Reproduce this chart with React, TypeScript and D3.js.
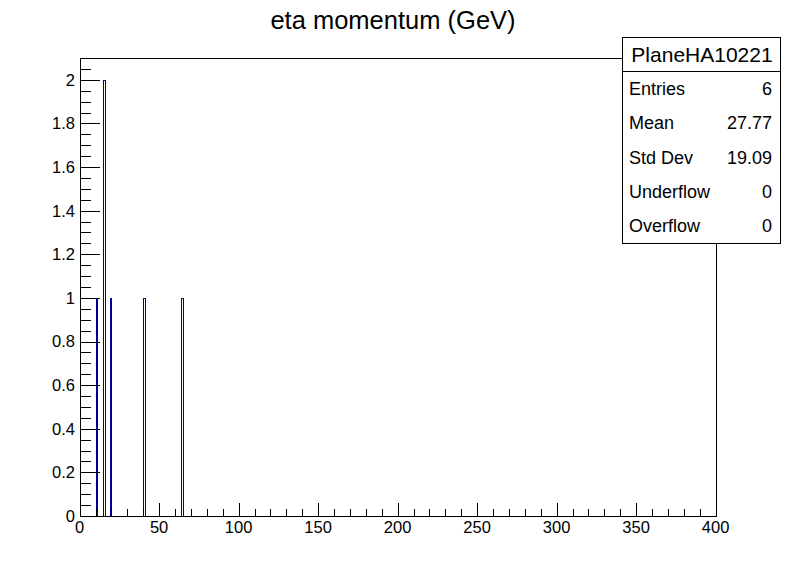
import React, { useEffect, useRef } from 'react';
import * as d3 from 'd3';

// histogram contents (bins of width 1 GeV, only the non-empty ones)
const binLow = [10, 15, 19, 40, 64];
const binCount = [1, 2, 1, 1, 1];
const binWidth = 1;

const xTicks = [0, 50, 100, 150, 200, 250, 300, 350, 400];
const yTicks = [0, 0.2, 0.4, 0.6, 0.8, 1, 1.2, 1.4, 1.6, 1.8, 2];

const statsTitle = 'PlaneHA10221';
const statsNames = ['Entries', 'Mean', 'Std Dev', 'Underflow', 'Overflow'];
const statsValues = ['6', '27.77', '19.09', '0', '0'];

const App = () => {
  const svgRef = useRef<SVGSVGElement>(null);

  useEffect(() => {
    const svg = d3.select(svgRef.current);
    svg.selectAll('*').remove();

    const W = 796;
    const H = 572;
    const frame = { left: 80, right: 716, top: 58, bottom: 516 };
    const font = "'Liberation Sans', Arial, Helvetica, sans-serif";

    svg.append('rect').attr('width', W).attr('height', H).attr('fill', 'white');

    const x = d3.scaleLinear().domain([0, 400]).range([79.6, 715.6]);
    const y = d3.scaleLinear().domain([0, 2.1]).range([frame.bottom, frame.top]);
    const px = (v: number) => Math.round(x(v)) + 0.5;
    const py = (v: number) => Math.round(y(v)) + 0.5;

    // histogram outline
    const g = svg.append('g').attr('shape-rendering', 'crispEdges');
    binLow.forEach((lo, i) => {
      const p = d3.path();
      p.moveTo(px(lo), py(0));
      p.lineTo(px(lo), py(binCount[i]));
      p.lineTo(px(lo + binWidth), py(binCount[i]));
      p.lineTo(px(lo + binWidth), py(0));
      g.append('path')
        .attr('d', p.toString())
        .attr('fill', 'none')
        .attr('stroke', '#000099')
        .attr('stroke-width', 1);
    });

    const axes = svg.append('g').attr('shape-rendering', 'crispEdges');

    // frame
    axes.append('rect')
      .attr('x', frame.left + 0.5)
      .attr('y', frame.top + 0.5)
      .attr('width', frame.right - frame.left)
      .attr('height', frame.bottom - frame.top)
      .attr('fill', 'none')
      .attr('stroke', 'black');

    // x axis ticks
    const xMinor = d3.range(0, 401, 10);
    axes.append('g').selectAll('line')
      .data(xMinor)
      .enter().append('line')
      .attr('x1', d => px(d))
      .attr('x2', d => px(d))
      .attr('y1', frame.bottom + 0.5)
      .attr('y2', d => frame.bottom + 0.5 - (d % 50 === 0 ? 14 : 8))
      .attr('stroke', 'black');

    svg.append('g').selectAll('text')
      .data(xTicks)
      .enter().append('text')
      .attr('x', d => x(d))
      .attr('y', 533)
      .attr('text-anchor', 'middle')
      .style('font-family', font)
      .style('font-size', '16.5px')
      .text(d => String(d));

    // y axis ticks
    const yMinor = d3.range(0, 42).map(i => i * 0.05);
    axes.append('g').selectAll('line')
      .data(yMinor)
      .enter().append('line')
      .attr('x1', frame.left + 0.5)
      .attr('x2', (d, i) => frame.left + 0.5 + (i % 4 === 0 ? 19 : 10))
      .attr('y1', d => py(d))
      .attr('y2', d => py(d))
      .attr('stroke', 'black');

    svg.append('g').selectAll('text')
      .data(yTicks)
      .enter().append('text')
      .attr('x', 75)
      .attr('y', d => y(d))
      .attr('dy', '0.36em')
      .attr('text-anchor', 'end')
      .style('font-family', font)
      .style('font-size', '16.5px')
      .text(d => d3.format('~g')(d));

    // title
    svg.append('text')
      .attr('x', 393)
      .attr('y', 29)
      .attr('text-anchor', 'middle')
      .style('font-family', font)
      .style('font-size', '25.5px')
      .text('eta momentum (GeV)');

    // stats box
    const box = { left: 622, right: 780, top: 37, bottom: 243 };
    const rowH = (box.bottom - box.top) / (statsNames.length + 1);
    const stats = svg.append('g');
    stats.append('rect')
      .attr('x', box.left + 0.5)
      .attr('y', box.top + 0.5)
      .attr('width', box.right - box.left)
      .attr('height', box.bottom - box.top)
      .attr('fill', 'white')
      .attr('stroke', 'black')
      .attr('shape-rendering', 'crispEdges');
    stats.append('line')
      .attr('x1', box.left)
      .attr('x2', box.right)
      .attr('y1', Math.round(box.top + rowH) + 0.5)
      .attr('y2', Math.round(box.top + rowH) + 0.5)
      .attr('stroke', 'black')
      .attr('shape-rendering', 'crispEdges');
    stats.append('text')
      .attr('x', (box.left + box.right) / 2 + 1)
      .attr('y', box.top + rowH / 2)
      .attr('dy', '0.36em')
      .attr('text-anchor', 'middle')
      .style('font-family', font)
      .style('font-size', '21px')
      .text(statsTitle);
    statsNames.forEach((name, i) => {
      const cy = box.top + rowH * (i + 1.5);
      stats.append('text')
        .attr('x', box.left + 7)
        .attr('y', cy)
        .attr('dy', '0.36em')
        .style('font-family', font)
        .style('font-size', '18px')
        .text(name);
      stats.append('text')
        .attr('x', box.right - 8)
        .attr('y', cy)
        .attr('dy', '0.36em')
        .attr('text-anchor', 'end')
        .style('font-family', font)
        .style('font-size', '18px')
        .text(statsValues[i]);
    });
  }, []);

  return (
    <svg
      ref={svgRef}
      width={796}
      height={572}
      style={{ position: 'absolute', left: 0, top: 0 }}
    />
  );
};

export default App;
